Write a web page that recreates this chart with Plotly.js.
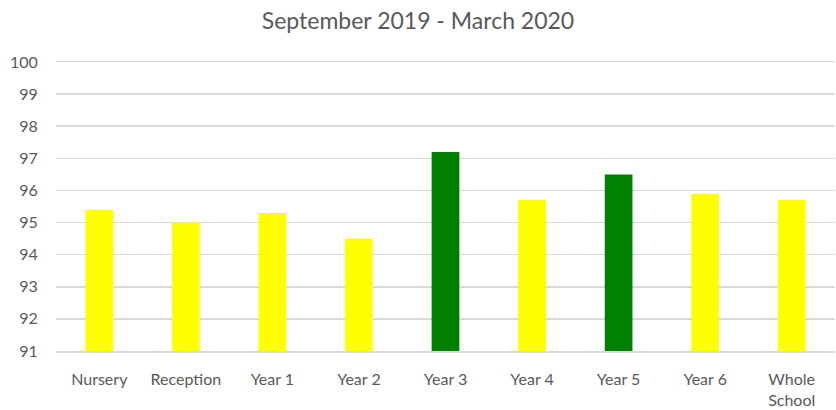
<!DOCTYPE html>
<html>
<head>
<meta charset="utf-8">
<script src="https://cdn.plot.ly/plotly-3.0.1.min.js"></script>
<style>html,body{margin:0;padding:0;background:#fff;}#chart{width:836px;height:410px;}</style>
</head>
<body>
<div id="chart"></div>
<script>
const categories = ["Nursery", "Reception", "Year 1", "Year 2", "Year 3", "Year 4", "Year 5", "Year 6", "Whole<br>School"];
const values = [95.4, 95.0, 95.3, 94.5, 97.2, 95.7, 96.5, 95.9, 95.7];
const barColors = ["#FFFF00", "#FFFF00", "#FFFF00", "#FFFF00", "#008000", "#FFFF00", "#008000", "#FFFF00", "#FFFF00"];
const yTicks = [91, 92, 93, 94, 95, 96, 97, 98, 99, 100];

const font = "Lato, 'Open Sans', sans-serif";
Plotly.newPlot("chart", [{
  type: "bar",
  x: categories,
  y: values,
  marker: {color: barColors},
  width: 0.32,
  hoverinfo: "skip"
}], {
  width: 836, height: 410,
  margin: {l: 56, r: 1, t: 62, b: 59},
  paper_bgcolor: "#fff", plot_bgcolor: "#fff",
  title: {text: "September 2019 - March 2020", x: 0.5, xanchor: "center", y: 0.95, yanchor: "middle",
          font: {family: font, size: 23, color: "#595959"}},
  showlegend: false,
  xaxis: {
    type: "category",
    tickfont: {family: font, size: 16, color: "#595959"},
    showgrid: false, zeroline: false,
    showline: true, mirror: true, linecolor: "#D9D9D9", linewidth: 1.5,
    ticks: "outside", ticklen: 13, tickcolor: "rgba(0,0,0,0)"
  },
  yaxis: {
    range: [91, 100],
    tickvals: yTicks,
    tickfont: {family: font, size: 16, color: "#595959"},
    showgrid: true, gridcolor: "#D9D9D9", gridwidth: 1.5,
    zeroline: false, showline: false,
    ticks: "outside", ticklen: 14, tickcolor: "rgba(0,0,0,0)"
  }
}, {staticPlot: true});
</script>
</body>
</html>
